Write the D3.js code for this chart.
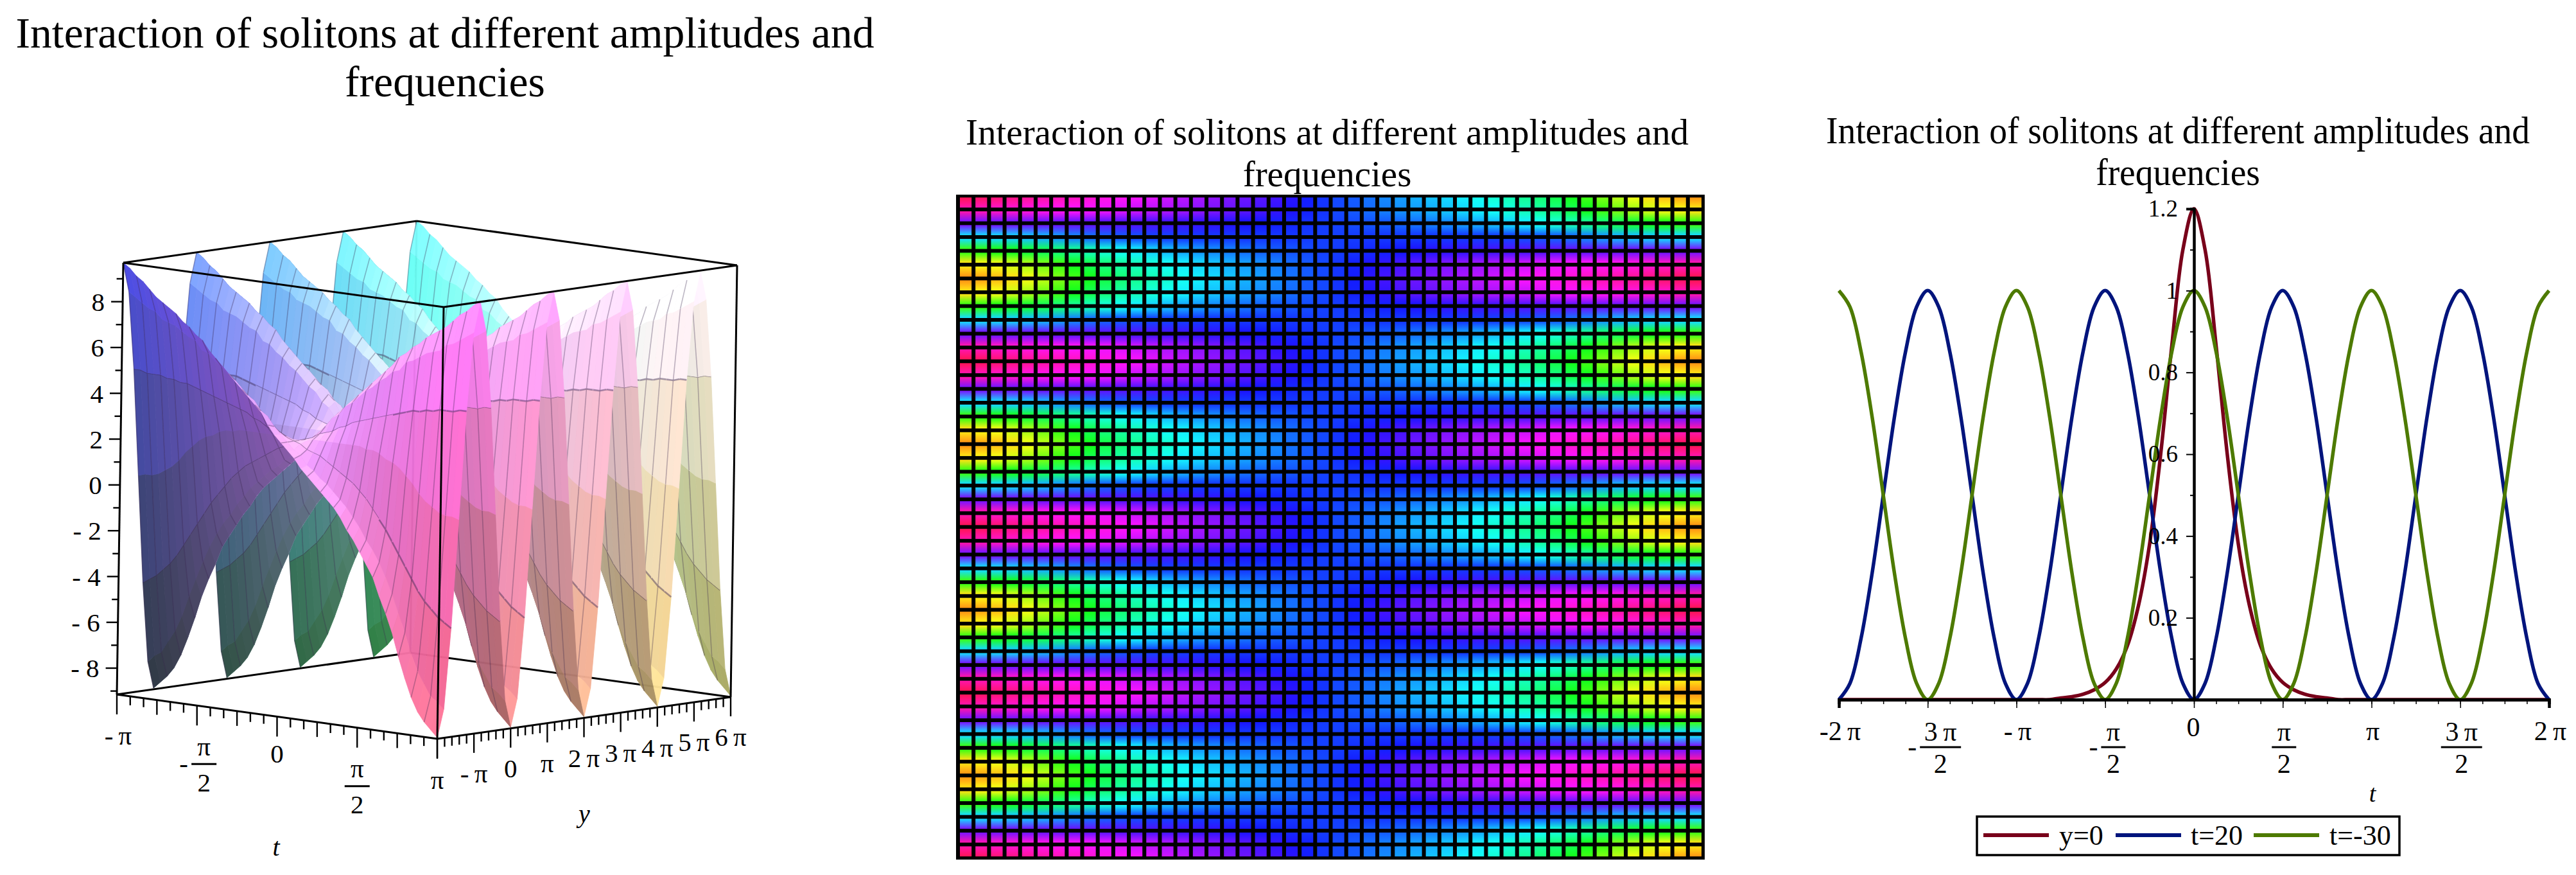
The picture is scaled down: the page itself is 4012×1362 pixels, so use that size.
<!DOCTYPE html>
<html>
<head>
<meta charset="utf-8">
<title>Interaction of solitons</title>
<script src="https://cdn.jsdelivr.net/npm/d3@7"></script>
<style>
  html, body { margin: 0; padding: 0; background: #fff; }
  svg { display: block; }
  text { font-family: "Liberation Serif", serif; fill: #000; }
</style>
</head>
<body>
<svg id="chart" width="4012" height="1362"></svg>
<script>
const PI = Math.PI;

const titleLines = ['Interaction of solitons at different amplitudes and', 'frequencies'];

// z. One row per t node (t = -pi .. pi, 49 nodes),
// one column per phase of y (0, 30, .. 180 degrees), the surface repeats every 2 pi in y
const surfaceZ = [
  [9.7, 8.4, 5.0, 0.3, -4.4, -7.9, -9.1],
  [9.5, 8.2, 5.0, 0.4, -4.2, -7.6, -8.8],
  [9.2, 8.0, 4.9, 0.4, -4.0, -7.4, -8.5],
  [9.0, 7.8, 4.9, 0.5, -3.7, -6.9, -8.1],
  [8.7, 7.7, 4.9, 0.7, -3.4, -6.4, -7.5],
  [8.4, 7.4, 4.8, 0.9, -3.0, -5.7, -6.7],
  [8.2, 7.3, 4.8, 1.2, -2.5, -4.8, -5.8],
  [8.0, 7.2, 4.7, 1.6, -2.0, -4.0, -4.8],
  [7.8, 7.0, 4.7, 1.9, -1.5, -3.2, -4.0],
  [7.5, 6.8, 4.6, 2.2, -1.0, -2.5, -3.3],
  [7.3, 6.7, 4.5, 2.4, -0.5, -1.9, -2.5],
  [7.0, 6.3, 4.4, 2.5, -0.1, -1.4, -2.0],
  [6.8, 6.2, 4.3, 2.7, 0.3, -1.0, -1.5],
  [6.4, 5.9, 4.2, 2.8, 0.7, -0.5, -1.0],
  [6.1, 5.7, 4.1, 2.8, 1.0, -0.1, -0.6],
  [5.8, 5.4, 4.0, 2.9, 1.3, 0.3, -0.1],
  [5.5, 5.2, 3.9, 2.9, 1.5, 0.6, 0.3],
  [5.2, 4.9, 3.8, 2.9, 1.7, 0.9, 0.6],
  [4.9, 4.6, 3.6, 2.9, 1.9, 1.2, 0.9],
  [4.6, 4.4, 3.5, 2.9, 2.1, 1.4, 1.2],
  [4.3, 4.0, 3.3, 2.9, 2.3, 1.7, 1.5],
  [4.0, 3.8, 3.2, 2.9, 2.4, 1.9, 1.8],
  [3.5, 3.4, 3.1, 2.9, 2.5, 2.3, 2.2],
  [3.1, 3.1, 2.9, 2.8, 2.7, 2.5, 2.5],
  [2.8, 2.8, 2.8, 2.8, 2.8, 2.8, 2.8],
  [2.5, 2.5, 2.7, 2.8, 2.9, 3.1, 3.1],
  [2.2, 2.3, 2.5, 2.9, 3.1, 3.4, 3.5],
  [1.8, 1.9, 2.4, 2.9, 3.2, 3.8, 4.0],
  [1.5, 1.7, 2.3, 2.9, 3.3, 4.0, 4.3],
  [1.2, 1.4, 2.1, 2.9, 3.5, 4.4, 4.6],
  [0.9, 1.2, 1.9, 2.9, 3.6, 4.6, 4.9],
  [0.6, 0.9, 1.7, 2.9, 3.8, 4.9, 5.2],
  [0.3, 0.6, 1.5, 2.9, 3.9, 5.2, 5.5],
  [-0.1, 0.3, 1.3, 2.9, 4.0, 5.4, 5.8],
  [-0.6, -0.1, 1.0, 2.8, 4.1, 5.7, 6.1],
  [-1.0, -0.5, 0.7, 2.8, 4.2, 5.9, 6.4],
  [-1.5, -1.0, 0.3, 2.7, 4.3, 6.2, 6.8],
  [-2.0, -1.4, -0.1, 2.5, 4.4, 6.3, 7.0],
  [-2.5, -1.9, -0.5, 2.4, 4.5, 6.7, 7.3],
  [-3.3, -2.5, -1.0, 2.2, 4.6, 6.8, 7.5],
  [-4.0, -3.2, -1.5, 1.9, 4.7, 7.0, 7.8],
  [-4.8, -4.0, -2.0, 1.6, 4.7, 7.2, 8.0],
  [-5.8, -4.8, -2.5, 1.2, 4.8, 7.3, 8.2],
  [-6.7, -5.7, -3.0, 0.9, 4.8, 7.4, 8.4],
  [-7.5, -6.4, -3.4, 0.7, 4.9, 7.7, 8.7],
  [-8.1, -6.9, -3.7, 0.5, 4.9, 7.8, 9.0],
  [-8.5, -7.4, -4.0, 0.4, 4.9, 8.0, 9.2],
  [-8.8, -7.6, -4.2, 0.4, 5.0, 8.2, 9.5],
  [-9.1, -7.9, -4.4, 0.3, 5.0, 8.4, 9.7]
];

// tick values for the 3d box
const boxTTicks = d3.range(25).map(i => -PI + i * PI / 12);
const boxYTicks = d3.range(41).map(i => -2 * PI + i * PI / 5);
const boxZTicks = d3.range(-9, 10);
const boxZLabels = [-8, -6, -4, -2, 0, 2, 4, 6, 8];
const boxTLabels = [[-PI, '-\u2009π'], [-PI / 2, '-|π|2'], [0, '0'], [PI / 2, 'π|2'], [PI, 'π']];
const boxYLabels = [[-PI, '-\u2009π'], [0, '0'], [PI, 'π'], [2 * PI, '2\u2009π'], [3 * PI, '3\u2009π'], [4 * PI, '4\u2009π'], [5 * PI, '5\u2009π'], [6 * PI, '6\u2009π']];

// line plot, sampled every pi/16 from -2 pi to 2 pi
const lineT = d3.range(65).map(i => -2 * PI + i * PI / 16);
const lineY0 = [
  0, 0, 0, 0, 0, 0, 0, 0, 0, 0, 0, 0, 0, 0, 0, 0, 0,
  0, 0, 0, 0.004, 0.007, 0.013, 0.024, 0.042, 0.075, 0.132, 0.23, 0.38, 0.6, 0.864, 1.1, 1.2,
  1.1, 0.864, 0.6, 0.38, 0.23, 0.132, 0.075, 0.042, 0.024, 0.013, 0.007, 0.004, 0, 0, 0,
  0, 0, 0, 0, 0, 0, 0, 0, 0, 0, 0, 0, 0, 0, 0, 0, 0
];
const lineT20 = [
  0, 0.04, 0.15, 0.31, 0.5, 0.69, 0.85, 0.96, 1, 0.96, 0.85, 0.69, 0.5, 0.31, 0.15, 0.04,
  0, 0.04, 0.15, 0.31, 0.5, 0.69, 0.85, 0.96, 1, 0.96, 0.85, 0.69, 0.5, 0.31, 0.15, 0.04,
  0, 0.04, 0.15, 0.31, 0.5, 0.69, 0.85, 0.96, 1, 0.96, 0.85, 0.69, 0.5, 0.31, 0.15, 0.04,
  0, 0.04, 0.15, 0.31, 0.5, 0.69, 0.85, 0.96, 1, 0.96, 0.85, 0.69, 0.5, 0.31, 0.15, 0.04, 0
];
const lineT30 = [
  1, 0.96, 0.85, 0.69, 0.5, 0.31, 0.15, 0.04, 0, 0.04, 0.15, 0.31, 0.5, 0.69, 0.85, 0.96,
  1, 0.96, 0.85, 0.69, 0.5, 0.31, 0.15, 0.04, 0, 0.04, 0.15, 0.31, 0.5, 0.69, 0.85, 0.96,
  1, 0.96, 0.85, 0.69, 0.5, 0.31, 0.15, 0.04, 0, 0.04, 0.15, 0.31, 0.5, 0.69, 0.85, 0.96,
  1, 0.96, 0.85, 0.69, 0.5, 0.31, 0.15, 0.04, 0, 0.04, 0.15, 0.31, 0.5, 0.69, 0.85, 0.96, 1
];
const lineSeries = [
  { name: 'y=0', values: lineY0, color: '#78001a' },
  { name: 't=20', values: lineT20, color: '#00147c' },
  { name: 't=-30', values: lineT30, color: '#4d7a00' }
];
const lineXMajor = d3.range(9).map(i => -2 * PI + i * PI / 2);
const lineXMinor = d3.range(33).map(i => -2 * PI + i * PI / 8);
const lineXLabels = ['-2\u2009π', '-|3\u2009π|2', '-\u2009π', '-|π|2', '0', 'π|2', 'π', '3\u2009π|2', '2\u2009π'];
const lineYMajor = [0.2, 0.4, 0.6, 0.8, 1, 1.2];
const lineYMinor = [0.1, 0.3, 0.5, 0.7, 0.9, 1.1];

const svg = d3.select('#chart');

function drawTitle(cx, y1, y2, size, stretch) {
  svg.selectAll(null).data([y1, y2]).enter().append('text')
    .attr('transform', d => `translate(${cx},${d}) scale(1,${stretch})`)
    .attr('text-anchor', 'middle')
    .attr('font-size', size)
    .text((d, i) => titleLines[i]);
}

// plain label, or num|den fraction with an optional leading minus ("-|num|den")
function drawPiLabel(g, x, yPlain, yBar, label, size, barW, gap) {
  const parts = label.split('|');
  if (parts.length === 1) {
    g.append('text').attr('x', x).attr('y', yPlain).attr('dy', '.35em')
      .attr('text-anchor', 'middle').attr('font-size', size).text(label);
    return;
  }
  const neg = parts[0] === '-';
  const num = neg ? parts[1] : parts[0];
  const den = neg ? parts[2] : parts[1];
  const cx = neg ? x + barW * 0.28 : x;
  g.append('rect').attr('x', cx - barW / 2).attr('y', yBar - 1.5).attr('width', barW).attr('height', 3).attr('fill', '#000');
  g.append('text').attr('x', cx).attr('y', yBar - gap).attr('dy', '.35em')
    .attr('text-anchor', 'middle').attr('font-size', size).text(num);
  g.append('text').attr('x', cx).attr('y', yBar + gap).attr('dy', '.35em')
    .attr('text-anchor', 'middle').attr('font-size', size).text(den);
  if (neg) {
    g.append('text').attr('x', cx - barW / 2 - 12).attr('y', yBar).attr('dy', '.3em')
      .attr('text-anchor', 'middle').attr('font-size', size).text('-');
  }
}

// z value at t node k and y node i (y node spacing is pi/6)
function zAt(k, i) {
  const p = i % 12;
  return surfaceZ[k][p <= 6 ? p : 12 - p];
}

const nodeT = d3.range(49).map(k => -PI + k * PI / 24);
const nodeY = d3.range(49).map(i => -2 * PI + i * PI / 6);

// ---------- left: 3d surface ----------
function draw3d() {
  const g = svg.append('g');
  drawTitle(693, 74, 150, 67.7, 1);

  // the box is an affine projection, one linear scale per axis and screen direction
  const tDomain = [-PI, PI], yDomain = [-2 * PI, 6 * PI], zDomain = [-9.15, 9.7];
  const tn = d3.scaleLinear().domain(tDomain).range([0, 1]);
  const yn = d3.scaleLinear().domain(yDomain).range([0, 1]);
  const zn = d3.scaleLinear().domain(zDomain).range([0, 1]);
  const px = (t, y, z) => 182 + 499 * tn(t) + 457 * yn(y) + 10 * zn(z);
  const py = (t, y, z) => 1081 + 69 * tn(t) - 65 * yn(y) - 672 * zn(z);
  const pt = (t, y, z) => [px(t, y, z), py(t, y, z)];
  const line = d3.line();

  const [t0, t1] = tDomain, [y0, y1] = yDomain, [z0, z1] = zDomain;
  const edge = (sel, a, b) => sel.append('path').attr('d', line([pt(...a), pt(...b)]))
    .attr('fill', 'none').attr('stroke', '#000').attr('stroke-width', 3);

  // back edges go under the surface
  const back = g.append('g');
  edge(back, [t0, y1, z0], [t0, y0, z0]);
  edge(back, [t0, y1, z0], [t1, y1, z0]);
  edge(back, [t0, y1, z0], [t0, y1, z1]);

  const ramp = { r: d3.scaleLinear().domain([0, 1]).range([0.3, 1]),
                 g: d3.scaleLinear().domain([0, 1]).range([0.3, 1]),
                 b: d3.scaleLinear().domain([0, 1]).range([0.45, 1]) };
  const view = [0.67, -0.74, 0.15];
  const items = [];
  for (let k = 0; k < 48; k++) {
    for (let i = 0; i < 48; i++) {
      const c = [[k, i], [k + 1, i], [k + 1, i + 1], [k, i + 1]]
        .map(([a, b]) => ({ t: nodeT[a], y: nodeY[b], z: zAt(a, b) }));
      const mt = d3.mean(c, d => d.t), my = d3.mean(c, d => d.y), mz = d3.mean(c, d => d.z);
      const depth = 457 * tn(mt) + 499 * (1 - yn(my)) + 100 * zn(mz);
      // normal from the two diagonals, in box units
      const u = [tn(c[2].t) - tn(c[0].t), yn(c[2].y) - yn(c[0].y), zn(c[2].z) - zn(c[0].z)];
      const v = [tn(c[3].t) - tn(c[1].t), yn(c[3].y) - yn(c[1].y), zn(c[3].z) - zn(c[1].z)];
      let n = [u[1] * v[2] - u[2] * v[1], u[2] * v[0] - u[0] * v[2], u[0] * v[1] - u[1] * v[0]];
      const len = Math.hypot(...n);
      n = n.map(d => d / len);
      if (d3.sum(n, (d, j) => d * view[j]) < 0) n = n.map(d => -d);
      // faces seen from above are pale, faces seen from below go dark, more so low down
      const zz = zn(mz), tt = tn(mt);
      const top = Math.tanh(n[2] / 0.05) * 0.5 + 0.5;
      const dark = 0.52 + 0.4 * zz;
      const pale = 0.82 + 0.12 * zz;
      const white = 0.08 + 0.42 * Math.abs(n[2]);
      const under = 0.13 * tt;
      const shade = ch => 255 * Math.min(1, top * (ch * pale + white) + (1 - top) * (ch * dark + under));
      const col = d3.rgb(shade(ramp.r(tt)), shade(ramp.g(yn(my))), shade(ramp.b(zz))).formatHex();
      items.push({ depth, col, d: line(c.map(d => pt(d.t, d.y, d.z))) + 'Z' });
      if (k % 2 === 0) {
        items.push({ depth: depth + 0.01, line: 1, d: line([pt(c[0].t, c[0].y, c[0].z), pt(c[3].t, c[3].y, c[3].z)]) });
      }
      if ([2, 4, 8, 10].includes(i % 12)) {
        items.push({ depth: depth + 0.01, line: 2, d: line([pt(c[0].t, c[0].y, c[0].z), pt(c[1].t, c[1].y, c[1].z)]) });
      }
    }
  }
  items.sort((a, b) => a.depth - b.depth);

  g.append('g').attr('opacity', 0.96).selectAll('path').data(items).join('path')
    .attr('d', d => d.d)
    .attr('fill', d => d.col || 'none')
    .attr('stroke', d => d.col || (d.line === 1 ? 'rgba(50,30,70,0.33)' : 'rgba(50,30,70,0.45)'))
    .attr('stroke-width', d => d.col ? 0.8 : (d.line === 1 ? 1.6 : 2.6));

  // front edges on top
  const front = g.append('g');
  edge(front, [t0, y0, z0], [t1, y0, z0]);
  edge(front, [t1, y0, z0], [t1, y1, z0]);
  edge(front, [t0, y0, z0], [t0, y0, z1]);
  edge(front, [t1, y0, z0], [t1, y0, z1]);
  edge(front, [t1, y1, z0], [t1, y1, z1]);
  edge(front, [t0, y0, z1], [t1, y0, z1]);
  edge(front, [t1, y0, z1], [t1, y1, z1]);
  edge(front, [t0, y0, z1], [t0, y1, z1]);
  edge(front, [t0, y1, z1], [t1, y1, z1]);

  // ticks
  const ticks = g.append('g').attr('stroke', '#000').attr('stroke-width', 2.4);
  boxTTicks.forEach((t, i) => {
    const [x, y] = pt(t, y0, z0);
    const len = i % 6 === 0 ? 31 : (i % 3 === 0 ? 23 : 14);
    ticks.append('line').attr('x1', x).attr('x2', x).attr('y1', y).attr('y2', y + len);
  });
  boxYTicks.forEach((v, i) => {
    const [x, y] = pt(t1, v, z0);
    const len = i % 5 === 0 ? 30 : 14;
    ticks.append('line').attr('x1', x).attr('x2', x).attr('y1', y).attr('y2', y + len);
  });
  boxZTicks.forEach(z => {
    const [x, y] = pt(t0, y0, z);
    const len = z % 2 === 0 ? 18 : 10;
    ticks.append('line').attr('x1', x - len).attr('x2', x).attr('y1', y).attr('y2', y);
  });

  // labels
  const labels = g.append('g');
  labels.selectAll(null).data(boxZLabels).enter().append('text')
    .attr('x', d => px(t0, y0, d) - 28)
    .attr('y', d => py(t0, y0, d))
    .attr('dy', '.35em').attr('text-anchor', 'end').attr('font-size', 41)
    .text(d => d < 0 ? `- ${-d}` : d);
  boxTLabels.forEach(([v, s]) => {
    const [x, y] = pt(v, y0, z0);
    drawPiLabel(labels, x + (v === -PI ? 2 : 0), y + (v === 0 ? 57 : 64), y + 91, s, 41, 39, 28);
  });
  boxYLabels.forEach(([v, s]) => {
    const [x, y] = pt(t1, v, z0);
    labels.append('text').attr('x', x).attr('y', y + 62).attr('dy', '.35em')
      .attr('text-anchor', 'middle').attr('font-size', 41).text(s);
  });
  labels.append('text').attr('x', 430).attr('y', 1318).attr('dy', '.35em').attr('text-anchor', 'middle')
    .attr('font-size', 40).attr('font-style', 'italic').text('t');
  labels.append('text').attr('x', 910).attr('y', 1266).attr('dy', '.35em').attr('text-anchor', 'middle')
    .attr('font-size', 40).attr('font-style', 'italic').text('y');
}

// ---------- middle: surface seen from above ----------
function drawFlat() {
  drawTitle(2067, 225, 290, 57, 1);
  const g = svg.append('g');
  const cells = d3.range(48);
  const x = d3.scaleBand().domain(cells).range([1492, 2653]).paddingInner(0.25).paddingOuter(0.125);
  const y = d3.scaleBand().domain(cells).range([304.5, 1336]).paddingInner(0.27).paddingOuter(0.135);
  const hue = d3.scaleLinear().domain([-9.1, 9.7]).range([30, 345]);
  const colorOf = z => d3.hsl(hue(z), 1, 0.54).formatHex();

  g.append('rect').attr('x', 1489).attr('y', 303).attr('width', 1166).attr('height', 1035).attr('fill', '#000');

  const defs = g.append('defs');
  const data = [];
  cells.forEach(row => cells.forEach(col => {
    data.push({ row, col, id: `cell-${row}-${col}`,
      top: colorOf((zAt(col, row) + zAt(col + 1, row)) / 2),
      bottom: colorOf((zAt(col, row + 1) + zAt(col + 1, row + 1)) / 2) });
  }));
  const grads = defs.selectAll('linearGradient').data(data).join('linearGradient')
    .attr('id', d => d.id).attr('x1', 0).attr('x2', 0).attr('y1', 0).attr('y2', 1);
  grads.append('stop').attr('offset', 0).attr('stop-color', d => d.top);
  grads.append('stop').attr('offset', 1).attr('stop-color', d => d.bottom);

  g.selectAll('rect.cell').data(data).join('rect')
    .attr('class', 'cell')
    .attr('x', d => x(d.col)).attr('y', d => y(d.row))
    .attr('width', x.bandwidth()).attr('height', y.bandwidth())
    .attr('fill', d => `url(#${d.id})`);
}

// ---------- right: line plot ----------
function drawLines() {
  drawTitle(3392, 223, 288, 55.5, 1.06);
  const g = svg.append('g');
  const x = d3.scaleLinear().domain([-2 * PI, 2 * PI]).range([2864, 3970]);
  const y = d3.scaleLinear().domain([0, 1.2]).range([1089, 325]);
  const path = d3.line().x((d, i) => x(lineT[i])).y(d => y(d)).curve(d3.curveCatmullRom.alpha(0.5));

  g.selectAll('path.series').data(lineSeries).join('path')
    .attr('class', 'series')
    .attr('d', d => path(d.values))
    .attr('fill', 'none').attr('stroke', d => d.color).attr('stroke-width', 5.5);

  const axisMinorX = d3.axisBottom(x).tickValues(lineXMinor).tickSize(7).tickFormat('');
  const axisMajorX = d3.axisBottom(x).tickValues(lineXMajor).tickSize(13).tickFormat('');
  const axisMinorY = d3.axisLeft(y).tickValues(lineYMinor).tickSize(6).tickFormat('');
  const axisMajorY = d3.axisLeft(y).tickValues(lineYMajor).tickSize(12).tickPadding(13).tickFormat(d3.format('~g'));

  [axisMinorX, axisMajorX].forEach(a => {
    const s = g.append('g').attr('transform', `translate(0,${y(0)})`).call(a);
    s.select('.domain').attr('stroke', '#000').attr('stroke-width', 4.5);
    s.selectAll('line').attr('stroke-width', 1.5);
  });
  [axisMinorY, axisMajorY].forEach(a => {
    const s = g.append('g').attr('transform', `translate(${x(0)},0)`).call(a);
    s.select('.domain').attr('stroke', '#000').attr('stroke-width', 4);
    s.selectAll('line').attr('stroke-width', 2);
    s.selectAll('text').attr('font-size', 37).attr('font-family', '"Liberation Serif", serif');
  });

  lineXMajor.forEach((v, i) => {
    drawPiLabel(g, x(v) + (v === 0 ? -1 : 2), v === 0 ? 1131 : 1137, 1163, lineXLabels[i], 42, lineXLabels[i].includes('3') ? 64 : 38, 25);
  });
  g.append('text').attr('x', 3695).attr('y', 1235).attr('dy', '.35em').attr('text-anchor', 'middle')
    .attr('font-size', 38).attr('font-style', 'italic').text('t');

  // legend
  const legend = g.append('g');
  legend.append('rect').attr('x', 3079).attr('y', 1271).attr('width', 658).attr('height', 60)
    .attr('fill', '#fff').attr('stroke', '#000').attr('stroke-width', 3.5);
  const sampleX = [3089, 3295, 3510];
  const labelX = [3207, 3412, 3628];
  lineSeries.forEach((s, i) => {
    legend.append('rect').attr('x', sampleX[i]).attr('y', 1297).attr('width', 102).attr('height', 6).attr('fill', s.color);
    legend.append('text').attr('x', labelX[i]).attr('y', 1315).attr('font-size', 44).text(s.name);
  });
}

draw3d();
drawFlat();
drawLines();
</script>
</body>
</html>
